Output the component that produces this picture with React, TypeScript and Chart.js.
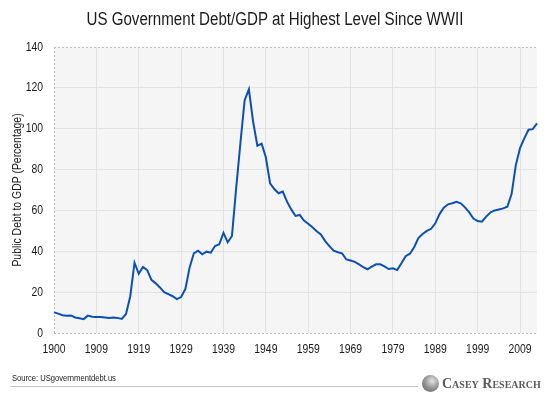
import React, { useEffect, useRef } from "react";
import { Chart, registerables } from "chart.js";

Chart.register(...registerables);

const title = "US Government Debt/GDP at Highest Level Since WWII";
const yAxisTitle = "Public Debt to GDP (Percentage)";
const sourceText = "Source: USgovernmentdebt.us";
const logoText = "Casey Research";

// 115 yearly points, first labelled 1900, tick every 10 points
const years: string[] = [
  "1900", "1900", "1901", "1902", "1903", "1904", "1905", "1906", "1907", "1908",
  "1909", "1910", "1911", "1912", "1913", "1914", "1915", "1916", "1917", "1918",
  "1919", "1920", "1921", "1922", "1923", "1924", "1925", "1926", "1927", "1928",
  "1929", "1930", "1931", "1932", "1933", "1934", "1935", "1936", "1937", "1938",
  "1939", "1940", "1941", "1942", "1943", "1944", "1945", "1946", "1947", "1948",
  "1949", "1950", "1951", "1952", "1953", "1954", "1955", "1956", "1957", "1958",
  "1959", "1960", "1961", "1962", "1963", "1964", "1965", "1966", "1967", "1968",
  "1969", "1970", "1971", "1972", "1973", "1974", "1975", "1976", "1977", "1978",
  "1979", "1980", "1981", "1982", "1983", "1984", "1985", "1986", "1987", "1988",
  "1989", "1990", "1991", "1992", "1993", "1994", "1995", "1996", "1997", "1998",
  "1999", "2000", "2001", "2002", "2003", "2004", "2005", "2006", "2007", "2008",
  "2009", "2010", "2011", "2012", "2013",
];

const xTickLabels: string[] = [
  "1900", "1909", "1919", "1929", "1939", "1949", "1959", "1969", "1979", "1989", "1999", "2009",
];

const yTickValues: number[] = [0, 20, 40, 60, 80, 100, 120, 140];

const debtToGdp: number[] = [
  10.1, 9.5, 8.7, 8.4, 8.6, 7.6, 7.2, 6.8, 8.5, 8.0,
  7.8, 7.8, 7.6, 7.3, 7.6, 7.4, 6.9, 9.3, 18.0, 34.4,
  29.0, 32.3, 30.8, 26.0, 24.3, 22.3, 20.0, 19.0, 18.0, 16.6,
  17.6, 21.5, 32.0, 39.0, 40.3, 38.5, 39.8, 39.3, 42.6, 43.4,
  49.0, 44.4, 47.5, 71.0, 93.0, 114.0, 119.3, 103.4, 91.7, 92.7,
  86.0, 73.3, 70.5, 68.4, 69.2, 64.3, 60.5, 57.3, 57.8, 55.0,
  53.5, 51.8, 49.8, 48.2, 45.0, 42.5, 40.3, 39.5, 39.0, 36.0,
  35.5, 34.8, 33.6, 32.2, 31.2, 32.5, 33.6, 33.6, 32.6, 31.3,
  31.7, 30.8, 34.1, 37.6, 38.8, 42.0, 46.5, 48.5, 50.0, 51.0,
  53.7, 58.2, 61.3, 63.0, 63.5, 64.2, 63.5, 61.5, 59.0, 56.0,
  54.8, 54.5, 57.0, 59.0, 60.0, 60.5, 61.0, 61.8, 68.0, 82.2,
  90.5, 95.3, 99.5, 99.8, 102.6,
];

const FONT = "'Liberation Sans', Arial, Helvetica, sans-serif";
const NARROW = 0.8;
const TEXT_COLOR = "#1a1a1a";

function narrowText(ctx: CanvasRenderingContext2D, text: string, x: number, y: number, align: CanvasTextAlign, rotate = 0) {
  ctx.save();
  ctx.translate(x, y);
  if (rotate) ctx.rotate(rotate);
  ctx.scale(NARROW, 1);
  ctx.textAlign = align;
  ctx.textBaseline = "middle";
  ctx.fillText(text, 0, 0);
  ctx.restore();
}

const plotDecor = {
  id: "plotDecor",
  beforeDraw(chart: any) {
    const { ctx, chartArea } = chart;
    if (!chartArea) return;
    ctx.save();
    ctx.fillStyle = "#f5f5f5";
    ctx.fillRect(chartArea.left, chartArea.top, chartArea.right - chartArea.left, chartArea.bottom - chartArea.top);
    ctx.restore();
  },
  beforeDatasetsDraw(chart: any) {
    const { ctx, chartArea } = chart;
    const { left, right, top, bottom } = chartArea;
    ctx.save();
    ctx.strokeStyle = "#bdbdbd";
    ctx.lineWidth = 1;
    ctx.setLineDash([2, 2]);
    ctx.beginPath();
    ctx.moveTo(left + 0.5, top);
    ctx.lineTo(left + 0.5, bottom);
    ctx.moveTo(left, Math.round(bottom) + 0.5);
    ctx.lineTo(right, Math.round(bottom) + 0.5);
    ctx.moveTo(left, Math.round(top) + 0.5);
    ctx.lineTo(right, Math.round(top) + 0.5);
    ctx.stroke();
    ctx.restore();
  },
  afterDraw(chart: any) {
    const { ctx, chartArea, scales } = chart;
    const xs = scales.x;
    const ys = scales.y;
    ctx.save();
    ctx.fillStyle = TEXT_COLOR;
    ctx.font = `13px ${FONT}`;
    yTickValues.forEach((v) => {
      narrowText(ctx, String(v), 43, ys.getPixelForValue(v), "right");
    });
    xTickLabels.forEach((lab, i) => {
      narrowText(ctx, lab, xs.getPixelForValue(i * 10), chartArea.bottom + 16, "center");
    });
    ctx.font = `13px ${FONT}`;
    narrowText(ctx, yAxisTitle, 17, (chartArea.top + chartArea.bottom) / 2, "center", -Math.PI / 2);
    ctx.restore();
  },
};

export default function App() {
  const canvasRef = useRef<HTMLCanvasElement | null>(null);

  useEffect(() => {
    if (!canvasRef.current) return;
    const chart = new Chart(canvasRef.current, {
      type: "line",
      data: {
        labels: years,
        datasets: [
          {
            data: debtToGdp,
            borderColor: "#0b50b2",
            borderWidth: 2,
            pointRadius: 0,
            tension: 0,
            fill: false,
          },
        ],
      },
      options: {
        animation: false,
        responsive: false,
        maintainAspectRatio: false,
        layout: { padding: { top: 47, left: 0, right: 13, bottom: 0 } },
        plugins: {
          legend: { display: false },
          tooltip: { enabled: false },
          title: { display: false },
        },
        scales: {
          x: {
            type: "category",
            offset: false,
            border: { display: false },
            grid: {
              drawTicks: false,
              color: (c: any) => (c.index % 10 === 0 && c.index !== 0 ? "#e2e2e2" : "rgba(0,0,0,0)"),
              lineWidth: 1,
            },
            ticks: { display: false, autoSkip: false },
            afterFit: (s: any) => {
              s.height = 66;
            },
          },
          y: {
            min: 0,
            max: 140,
            border: { display: false },
            grid: {
              drawTicks: false,
              color: (c: any) =>
                c.tick && (c.tick.value === 0 || c.tick.value === 140) ? "rgba(0,0,0,0)" : "#e2e2e2",
              lineWidth: 1,
            },
            ticks: { display: false, stepSize: 20 },
            afterFit: (s: any) => {
              s.width = 54;
            },
          },
        },
      },
      plugins: [plotDecor],
    });
    return () => chart.destroy();
  }, []);

  return (
    <div style={{ position: "fixed", left: 0, top: 0, width: 550, height: 399, background: "#ffffff", overflow: "hidden" }}>
      <canvas ref={canvasRef} width={550} height={399} style={{ position: "absolute", left: 0, top: 0, width: 550, height: 399 }} />
      <div
        style={{
          position: "absolute",
          left: 0,
          width: 550,
          top: 8,
          textAlign: "center",
          fontFamily: FONT,
          fontSize: 18,
          color: TEXT_COLOR,
          lineHeight: "22px",
          transform: "scaleX(0.84)",
          transformOrigin: "275px 0",
          whiteSpace: "nowrap",
        }}
      >
        {title}
      </div>
      <div
        style={{
          position: "absolute",
          left: 12,
          top: 372,
          fontFamily: FONT,
          fontSize: 9.5,
          color: TEXT_COLOR,
          lineHeight: "12px",
          transform: "scaleX(0.8)",
          transformOrigin: "0 0",
          whiteSpace: "nowrap",
        }}
      >
        {sourceText}
      </div>
      <div style={{ position: "absolute", left: 10, top: 386, width: 408, height: 1, background: "#c8c8c8" }} />
      <div
        style={{
          position: "absolute",
          left: 422,
          top: 375,
          width: 17,
          height: 17,
          borderRadius: "50%",
          background: "radial-gradient(circle at 60% 35%, #e6e6e6 0%, #9a9a9a 45%, #555 100%)",
        }}
      />
      <div
        style={{
          position: "absolute",
          left: 442,
          top: 376,
          fontFamily: "'Liberation Serif', 'Times New Roman', serif",
          fontVariant: "small-caps",
          fontWeight: "bold",
          fontSize: 14,
          color: "#5a5a5a",
          lineHeight: "16px",
          whiteSpace: "nowrap",
        }}
      >
        {logoText}
      </div>
    </div>
  );
}
